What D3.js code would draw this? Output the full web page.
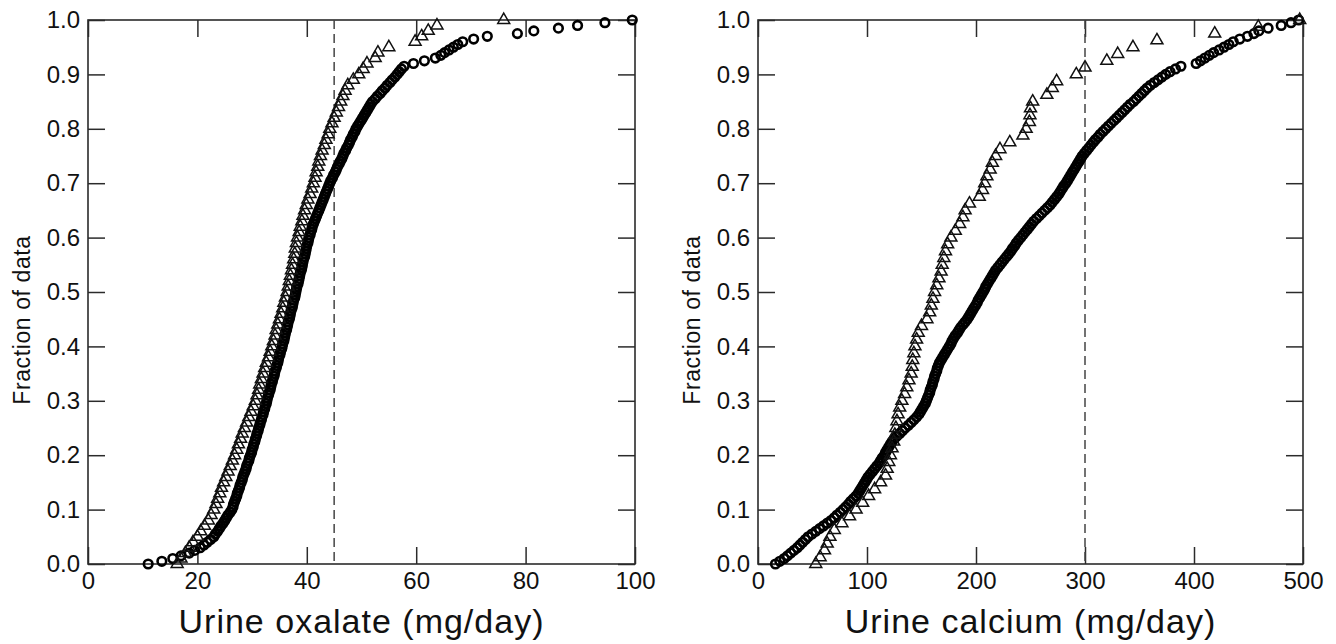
<!DOCTYPE html>
<html>
<head>
<meta charset="utf-8">
<script src="https://cdn.jsdelivr.net/npm/d3@7"></script>
<style>
  html, body { margin: 0; padding: 0; background: #fff; }
  svg { display: block; font-family: 'Liberation Sans', Arial, sans-serif; }
</style>
</head>
<body>
<svg id="chart" width="1336" height="644"></svg>
<script>
// sorted measurements, each series is plotted as its empirical cumulative fraction
const oxalateCircles = [
  11, 13.5, 15.5, 17, 18.5, 19.5, 20.5, 21.2, 21.8, 22.4,
  23, 23.3, 23.7, 24, 24.3, 24.7, 25, 25.3, 25.6, 26,
  26.3, 26.5, 26.6, 26.8, 27, 27.2, 27.3, 27.5, 27.7, 27.8,
  28, 28.2, 28.3, 28.5, 28.7, 28.9, 29, 29.2, 29.4, 29.5,
  29.7, 29.9, 30, 30.2, 30.3, 30.5, 30.6, 30.8, 30.9, 31.1,
  31.2, 31.4, 31.5, 31.7, 31.8, 32, 32.1, 32.3, 32.4, 32.6,
  32.7, 32.8, 33, 33.1, 33.3, 33.4, 33.5, 33.7, 33.8, 34,
  34.1, 34.2, 34.4, 34.5, 34.7, 34.8, 34.9, 35.1, 35.2, 35.4,
  35.5, 35.6, 35.8, 35.9, 36, 36.1, 36.3, 36.4, 36.5, 36.6,
  36.8, 36.9, 37, 37.1, 37.3, 37.4, 37.5, 37.6, 37.8, 37.9,
  38, 38.1, 38.2, 38.4, 38.5, 38.6, 38.7, 38.8, 39, 39.1,
  39.2, 39.3, 39.4, 39.6, 39.7, 39.8, 39.9, 40, 40.2, 40.3,
  40.4, 40.6, 40.7, 40.9, 41, 41.2, 41.4, 41.6, 41.8, 42,
  42.2, 42.4, 42.6, 42.8, 43, 43.2, 43.4, 43.6, 43.8, 44,
  44.2, 44.4, 44.7, 44.9, 45.2, 45.4, 45.6, 45.9, 46.1, 46.4,
  46.6, 46.8, 47.1, 47.3, 47.6, 47.8, 48, 48.3, 48.5, 48.8,
  49, 49.3, 49.6, 49.9, 50.2, 50.5, 50.8, 51.1, 51.4, 51.7,
  52, 52.5, 52.9, 53.4, 53.8, 54.3, 54.7, 55.2, 55.6, 56.1,
  56.5, 56.9, 57.3, 57.8, 59.5, 61.5, 63.5, 64.5, 65.2, 66,
  66.8, 67.6, 68.5, 70.5, 73, 78.5, 81.5, 86, 89.5, 94.5,
  99.5
]

const oxalateTriangles = [
  16.3, 17, 17.8, 18.5, 19.2, 20, 20.6, 21.3, 22, 22.5,
  23, 23.4, 23.7, 24.1, 24.4, 24.8, 25.2, 25.6, 26, 26.4,
  26.8, 27.2, 27.5, 27.9, 28.2, 28.6, 29, 29.4, 29.8, 30.2,
  30.6, 30.9, 31.2, 31.4, 31.7, 32, 32.3, 32.6, 33, 33.3,
  33.6, 33.9, 34.2, 34.4, 34.7, 35, 35.3, 35.6, 35.8, 36.1,
  36.4, 36.6, 36.8, 37, 37.2, 37.4, 37.6, 37.8, 37.9, 38.1,
  38.3, 38.6, 38.8, 39.1, 39.3, 39.6, 39.9, 40.2, 40.6, 40.9,
  41.2, 41.5, 41.7, 42, 42.2, 42.5, 42.8, 43.2, 43.5, 43.9,
  44.2, 44.6, 45, 45.4, 45.8, 46.2, 46.6, 47, 47.5, 48.5,
  49.5, 50.3, 51, 52.5, 53, 55, 59.8, 61, 62.2, 63.8,
  76
]

const calciumCircles = [
  16, 20, 24, 27, 30, 33, 36, 38.5, 41, 43.5,
  46, 49.5, 53, 56.5, 60, 63.5, 67, 70, 72.5, 75.5,
  78, 80.5, 83, 85, 87.5, 90, 92, 93.5, 95, 96.5,
  98, 99.5, 101, 103, 105, 107, 109, 111, 112.5, 114,
  116, 117, 118.5, 120, 121.5, 123, 125, 127.5, 130, 132.5,
  135, 138, 140.5, 143, 145.5, 147.5, 149, 150.5, 152, 153.5,
  154.5, 155.5, 156.5, 157.5, 158, 159, 160, 160.5, 161.5, 162,
  163, 164, 164.5, 165.5, 166.5, 168, 169.5, 171, 172.5, 174,
  175.5, 177, 178, 179.5, 181, 183, 184.5, 186, 188, 190,
  192, 193.5, 195, 196.5, 198, 199.5, 201, 202, 203.5, 205,
  206.5, 208, 209, 210.5, 212, 213.5, 215, 216.5, 218, 220,
  222, 224, 226, 228, 230, 232, 233.5, 235.5, 237, 239,
  241, 243, 245, 247, 249, 251, 253, 255.5, 258, 260.5,
  263, 265.5, 268, 270, 272, 274, 276, 277.5, 279, 280.5,
  282.5, 284, 285.5, 287, 288.5, 290, 291.5, 293, 294.5, 296,
  297.5, 299.5, 301.5, 303.5, 305.5, 307.5, 309.5, 312, 314, 316.5,
  319, 321.5, 324, 326.5, 329, 331.5, 334, 336.5, 339, 341.5,
  344.5, 347, 349.5, 352, 354.5, 357, 360, 363.5, 367, 370.5,
  374, 378, 383, 388, 402, 406, 410, 414, 418, 423,
  427.5, 432, 436, 442, 449, 455, 459.5, 468, 480, 489,
  496
]

const calciumTriangles = [
  53, 57, 61, 63.5, 66, 70, 77, 84, 90, 96,
  101.5, 107, 112.5, 117, 118.5, 120, 121.5, 123, 124.5, 125.5,
  126.5, 127.5, 128.5, 130, 132, 134.5, 136.5, 138.5, 140.5, 141.5,
  142, 143, 144, 145.5, 147, 150, 155, 157.5, 159, 160.5,
  162, 164, 166, 168, 169, 170.5, 172, 174, 177, 181,
  185, 188, 190, 194, 203, 206, 208, 210, 213, 215,
  218, 222, 231, 243, 246, 249, 249.5, 250, 252, 265,
  270, 274, 292, 300, 320, 330, 344, 366, 419, 459,
  497
]

const oxalateTicks = [0, 20, 40, 60, 80, 100]
const calciumTicks = [0, 100, 200, 300, 400, 500]
const fractionTicks = [0, 0.1, 0.2, 0.3, 0.4, 0.5, 0.6, 0.7, 0.8, 0.9, 1.0]
const oxalateCutoff = 45
const calciumCutoff = 300

const svg = d3.select('#chart')
const plotTop = 20
const plotBottom = 564
const tickLength = 17
const axisColor = '#2b2b2b'

const panels = [
  {
    title: 'Urine oxalate (mg/day)',
    domain: [0, 100],
    ticks: oxalateTicks,
    circles: oxalateCircles,
    triangles: oxalateTriangles,
    cutoff: oxalateCutoff,
    left: 88,
    right: 635,
    yTitleX: 22
  },
  {
    title: 'Urine calcium (mg/day)',
    domain: [0, 500],
    ticks: calciumTicks,
    circles: calciumCircles,
    triangles: calciumTriangles,
    cutoff: calciumCutoff,
    left: 758,
    right: 1303,
    yTitleX: 692
  }
]

panels.forEach(function (panel) {
  renderPanel(panel)
})

function toFractions (values) {
  const n = values.length - 1
  return values.map((v, i) => ({ value: v, fraction: i / n }))
}

function renderPanel (panel) {
  const x = d3.scaleLinear().domain(panel.domain).range([panel.left, panel.right])
  const y = d3.scaleLinear().domain([0, 1]).range([plotBottom, plotTop])
  const g = svg.append('g')

  // inward ticks on all four sides
  const bottomAxis = d3.axisBottom(x).tickValues(panel.ticks).tickFormat(d3.format('d'))
    .tickSizeInner(-tickLength).tickSizeOuter(0).tickPadding(8)
  const topAxis = d3.axisTop(x).tickValues(panel.ticks).tickFormat('')
    .tickSizeInner(-tickLength).tickSizeOuter(0)
  const leftAxis = d3.axisLeft(y).tickValues(fractionTicks).tickFormat(d3.format('.1f'))
    .tickSizeInner(-tickLength).tickSizeOuter(0).tickPadding(8)
  const rightAxis = d3.axisRight(y).tickValues(fractionTicks).tickFormat('')
    .tickSizeInner(-tickLength).tickSizeOuter(0)

  const axes = [
    [bottomAxis, `translate(0,${plotBottom})`],
    [topAxis, `translate(0,${plotTop})`],
    [leftAxis, `translate(${panel.left},0)`],
    [rightAxis, `translate(${panel.right},0)`]
  ]

  axes.forEach(function ([axis, transform]) {
    const a = g.append('g').attr('transform', transform).call(axis)
    a.select('.domain').remove()
    a.selectAll('line').attr('stroke', axisColor).attr('stroke-width', 1.5)
    a.selectAll('text')
      .attr('fill', '#111')
      .style('font-size', '24px')
      .style('font-family', "'Liberation Sans', Arial, sans-serif")
  })

  g.append('rect')
    .attr('x', panel.left)
    .attr('y', plotTop)
    .attr('width', panel.right - panel.left)
    .attr('height', plotBottom - plotTop)
    .attr('fill', 'none')
    .attr('stroke', axisColor)
    .attr('stroke-width', 1.6)

  g.append('line')
    .attr('x1', x(panel.cutoff))
    .attr('x2', x(panel.cutoff))
    .attr('y1', plotTop)
    .attr('y2', plotBottom)
    .attr('stroke', '#444')
    .attr('stroke-width', 1.5)
    .attr('stroke-dasharray', '9,5')

  g.append('g')
    .selectAll('circle')
    .data(toFractions(panel.circles))
    .enter()
    .append('circle')
    .attr('cx', d => x(d.value))
    .attr('cy', d => y(d.fraction))
    .attr('r', 4.3)
    .attr('fill', 'none')
    .attr('stroke', '#000')
    .attr('stroke-width', 2.6)

  const triangle = d3.symbol().type(d3.symbolTriangle).size(62)

  g.append('g')
    .selectAll('path')
    .data(toFractions(panel.triangles))
    .enter()
    .append('path')
    .attr('d', triangle)
    .attr('transform', d => `translate(${x(d.value)},${y(d.fraction)})`)
    .attr('fill', 'none')
    .attr('stroke', '#111')
    .attr('stroke-width', 1.5)

  g.append('text')
    .attr('x', (panel.left + panel.right) / 2)
    .attr('y', 633)
    .attr('text-anchor', 'middle')
    .attr('fill', '#111')
    .style('font-size', '34px')
    .style('letter-spacing', '1px')
    .text(panel.title)

  g.append('text')
    .attr('transform', `translate(${panel.yTitleX},320) rotate(-90)`)
    .attr('text-anchor', 'middle')
    .attr('dominant-baseline', 'central')
    .attr('fill', '#111')
    .style('font-size', '23px')
    .style('letter-spacing', '0.6px')
    .text('Fraction of data')
}
</script>
</body>
</html>
